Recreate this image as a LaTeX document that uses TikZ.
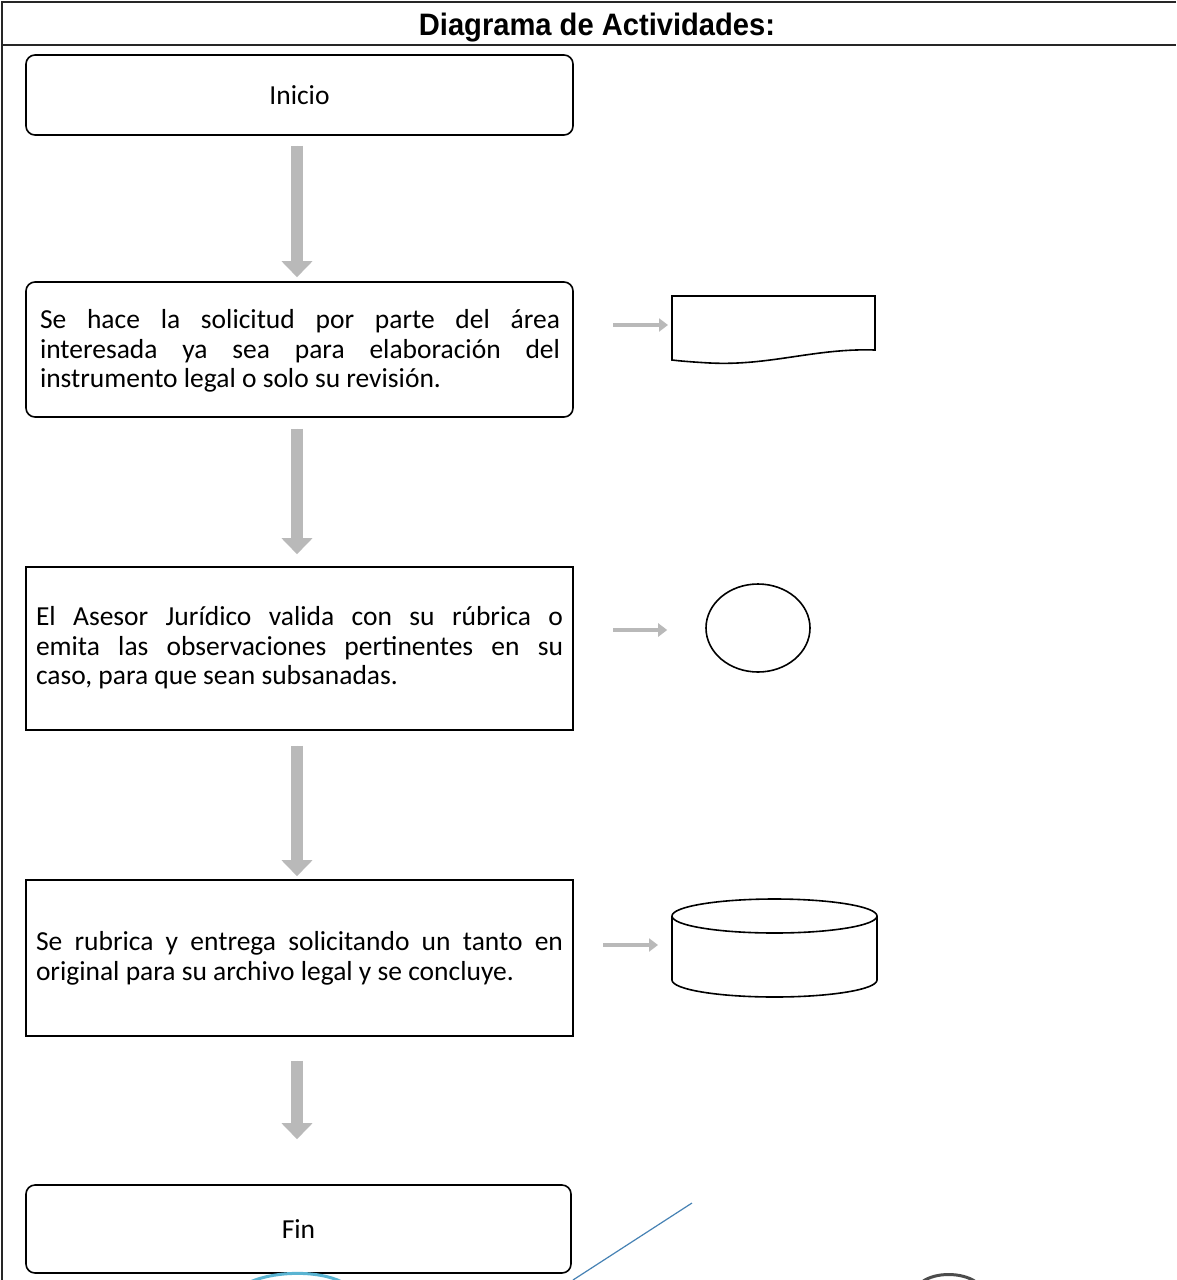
\documentclass[tikz,border=0pt]{standalone}
\usepackage{fontspec}
\setmainfont{Carlito}
\newfontfamily\titlefont{Liberation Sans}
\usetikzlibrary{arrows.meta,shapes.geometric}

\begin{document}
\begin{tikzpicture}[x=1pt,y=-1pt,
  frameline/.style={line width=1.3pt,black!85},
  stepbox/.style={draw,line width=1.6pt,fill=white,minimum width=547pt,inner sep=0pt},
  roundbox/.style={stepbox,rounded corners=9pt},
  boxtext/.style={text width=#1,inner sep=0pt,align=justify,font=\fontsize{27.5}{29.5}\selectfont},
  flowarrow/.style={-{Triangle[width=30pt,length=16pt]},line width=12pt,draw=gray!55,fill=gray!55},
  sidearrow/.style={-{Triangle[width=13pt,length=9pt]},line width=4pt,draw=gray!55,fill=gray!55},
  symbolline/.style={line width=1.6pt,black}]

\useasboundingbox (0,0) rectangle (1176,1280);
\fill[white] (0,0) rectangle (1176,1280);

% table frame and title row
\draw[frameline] (1176,2) -- (2,2) -- (2,1280);
\draw[frameline] (2,45) -- (1176,45);
\node[xscale=0.94,transform shape] (title) at (597,28)
  {\titlefont\bfseries\fontsize{31}{33}\selectfont Diagrama de Actividades:};

% activity boxes
\node[roundbox,minimum height=80pt] (inicio) at (299.5,95)
  {\fontsize{27.5}{29.5}\selectfont Inicio};
\node[roundbox,minimum height=135pt] (solicitud) at (299.5,349.5) {};
\node[boxtext=520pt] (solicitudtxt) at (300,351)
  {\parfillskip=0pt plus 1fil
   Se hace la solicitud por parte del área\linebreak
   interesada ya sea para elaboración del\linebreak
   instrumento legal o solo su revisión.};
\node[stepbox,minimum height=163pt] (valida) at (299.5,648.5) {};
\node[boxtext=527pt] (validatxt) at (299.5,648)
  {\parfillskip=0pt plus 1fil
   El Asesor Jurídico valida con su rúbrica o\linebreak
   emita las observaciones pertinentes en su\linebreak
   caso, para que sean subsanadas.};
\node[stepbox,minimum height=156pt] (entrega) at (299.5,958) {};
\node[boxtext=527pt] (entregatxt) at (299.5,958.5)
  {\parfillskip=0pt plus 1fil
   Se rubrica y entrega solicitando un tanto en\linebreak
   original para su archivo legal y se concluye.};
\node[roundbox,minimum width=545pt,minimum height=88pt] (fin) at (298.5,1229)
  {\fontsize{27.5}{29.5}\selectfont Fin};

% flow arrows between the activities
\draw[flowarrow,shorten <=10pt,shorten >=4pt] ([xshift=-2.5pt]inicio.south) -- ([xshift=-2.5pt]solicitud.north);
\draw[flowarrow,shorten <=11pt,shorten >=12pt] ([xshift=-2.5pt]solicitud.south) -- ([xshift=-2.5pt]valida.north);
\draw[flowarrow,shorten <=15pt,shorten >=3pt] ([xshift=-2.5pt]valida.south) -- ([xshift=-2.5pt]entrega.north);
\draw[flowarrow,shorten <=24pt,shorten >=45pt] ([xshift=-2.5pt]entrega.south) -- ([xshift=-1.5pt]fin.north);

% document symbol
\coordinate (doc) at (672,325);
\draw[symbolline,fill=white] (672,296) -- (875,296) -- (875,350)
  .. controls (815,348) and (770,366) .. (710,363)
  .. controls (692,362) and (680,361) .. (672,360) -- cycle;
\coordinate (docfrom) at (613,325);
\draw[sidearrow,shorten >=4pt] (docfrom) -- (doc);

% connector symbol
\node[ellipse,symbolline,draw,fill=white,minimum width=104pt,minimum height=88pt,inner sep=0pt] (circ) at (758,628) {};
\coordinate (circfrom) at (613,630);
\draw[sidearrow,shorten >=38pt] (circfrom) -- (circ.west |- circfrom);

% storage symbol
\coordinate (cyl) at (672,945);
\draw[symbolline,fill=white] (672,916) -- (672,980)
  arc[start angle=180,end angle=0,x radius=102.5,y radius=17] -- (877,916);
\draw[symbolline,fill=white] (774.5,916) ellipse [x radius=102.5,y radius=17];
\coordinate (cylfrom) at (603,945);
\draw[sidearrow,shorten >=14pt] (cylfrom) -- (cyl);

% stamp traces along the lower edge
\draw[line width=1.2pt,color={rgb,255:red,70;green,130;blue,180}] (692,1203) -- (573,1280);
\draw[line width=3pt,color={rgb,255:red,90;green,180;blue,210}]
  (250,1282) .. controls (275,1271) and (318,1270) .. (342,1282);
\draw[line width=3pt,black!70]
  (922,1282) .. controls (935,1272) and (962,1272) .. (976,1282);
\end{tikzpicture}
\end{document}
